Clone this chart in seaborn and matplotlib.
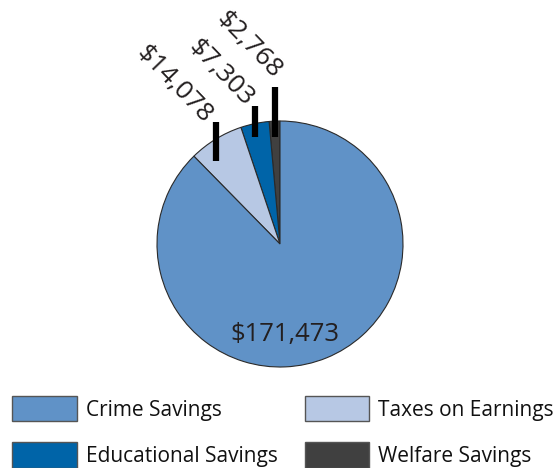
import numpy as np
import matplotlib
matplotlib.use("Agg")
import matplotlib.pyplot as plt
from matplotlib.patches import Patch
import seaborn as sns

# Savings per participant, drawn counter-clockwise from 12 o'clock
categories = ["Welfare Savings", "Educational Savings", "Taxes on Earnings", "Crime Savings"]
values = [2768, 7303, 14078, 171473]
value_labels = ["$2,768", "$7,303", "$14,078", "$171,473"]
colors = ["#404040", "#0064a8", "#b7c8e4", "#6092c7"]
legend_order = ["Crime Savings", "Educational Savings", "Taxes on Earnings", "Welfare Savings"]

sns.set_theme(style="white")
plt.rcParams["font.family"] = ["Open Sans", "DejaVu Sans"]

W, H, DPI = 556, 468, 100
fig = plt.figure(figsize=(W / DPI, H / DPI), dpi=DPI)
ax = fig.add_axes([0, 0, 1, 1])

cx, cy, r = 280, 244, 123  # pie centre and radius in pixels
wedges, _ = ax.pie(values, colors=colors, startangle=90, counterclock=True,
                   radius=1, center=(0, 0),
                   wedgeprops=dict(edgecolor="#2a2a2a", linewidth=0.8))
ax.set_xlim(-cx / r, (W - cx) / r)
ax.set_ylim(-(H - cy) / r, cy / r)
ax.set_aspect("equal")
ax.axis("off")

# leader bars and rotated labels for the three small slices
bar_y = [(0.87, 1.28), (0.87, 1.12), (0.675, 0.99)]
label_xy = [(-0.252, 1.618), (-0.48, 1.39), (-0.862, 1.30)]
for w, (y0, y1), (tx, ty), lab in zip(wedges[:3], bar_y, label_xy, value_labels[:3]):
    mid = np.deg2rad((w.theta1 + w.theta2) / 2)
    x = np.cos(mid)
    ax.plot([x, x], [y0, y1], color="black", linewidth=4.5, solid_capstyle="butt")
    ax.text(tx, ty, lab, rotation=-46, rotation_mode="anchor",
            ha="center", va="center", fontsize=19, color="#231f20")

# value label of the large slice
ax.text((285 - cx) / r, (cy - 335) / r, value_labels[3], ha="center", va="center",
        fontsize=18.5, color="#231f20")

handles = [Patch(facecolor=colors[categories.index(c)], edgecolor="#555555", linewidth=1,
                 label=c) for c in legend_order]
leg = fig.legend(handles=handles, ncol=2, loc="upper left",
                 bbox_to_anchor=(12 / W, 1 - 396 / H), frameon=False,
                 fontsize=15, handlelength=3.1, handleheight=1.5, handletextpad=0.43,
                 labelspacing=1.0, columnspacing=1.3, borderaxespad=0, borderpad=0)
for t in leg.get_texts():
    t.set_color("#111111")

fig.savefig("out.png", dpi=DPI)
